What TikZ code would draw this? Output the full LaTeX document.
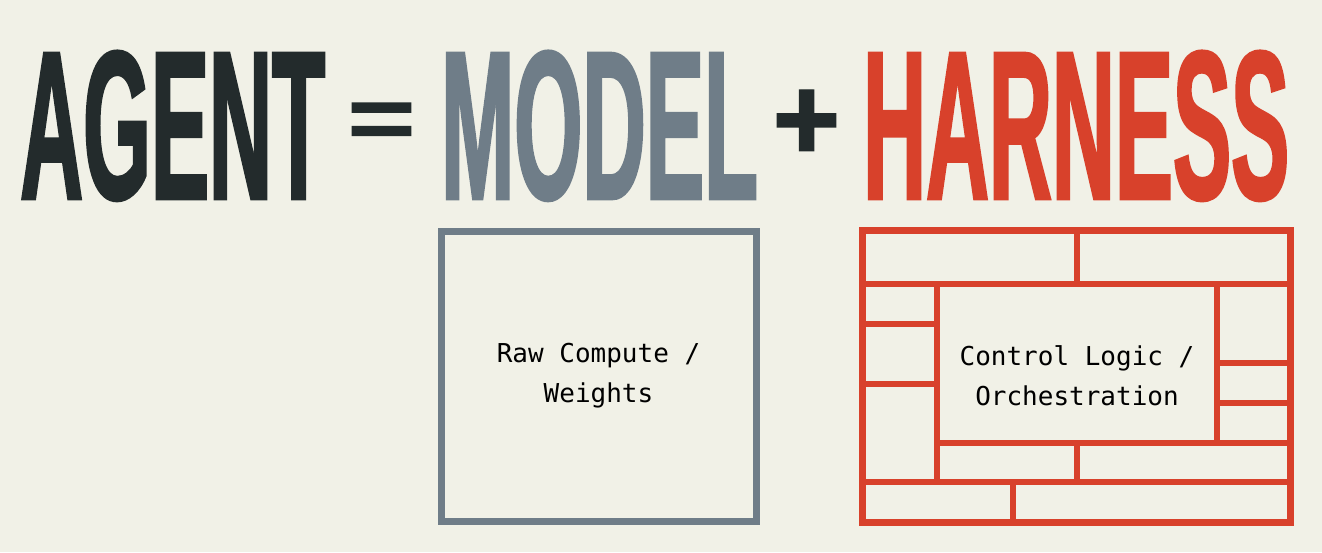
\documentclass[tikz,border=0pt]{standalone}
\usepackage{fontspec}
\usepackage{graphicx}
\setmonofont{DejaVu Sans Mono}
\newfontfamily\headfont[FakeStretch=0.45, FakeBold=1.2]{Liberation Sans Bold}
\usetikzlibrary{calc}
\usetikzlibrary{positioning}

\definecolor{paper}{HTML}{F1F1E7}
\definecolor{ink}{HTML}{232B2C}
\definecolor{slate}{HTML}{6F7D88}
\definecolor{brick}{HTML}{D8412B}

\begin{document}
\begin{tikzpicture}[x=1pt, y=-1pt,                                                    % pixel-like units, y downwards
        word/.style = {inner sep=0pt, anchor=base west},                             % headline words
        sign/.style = {inner sep=0pt, text=ink},                                     % = and +
        frame/.style = {draw, line width=7pt, inner sep=0pt, outer sep=0pt},         % outer boxes
        wall/.style = {draw=brick, line width=6.5pt},                                % harness partitions
        boxtext/.style = {font=\ttfamily\fontsize{26}{40}\selectfont, align=center}] % mono captions
    \fill[paper] (0,0) rectangle (1322,552);
    \useasboundingbox (0,0) rectangle (1322,552);
    % headline
    \node[word, text=ink] (agent) at (20,199) {\resizebox{305pt}{148pt}{\headfont AGENT}};
    \node[sign] (equals) at (381.5,125.5) {\resizebox{66pt}{45pt}{\headfont =}};
    \node[word, text=slate] (model) at (441,199) {\resizebox{316pt}{148pt}{\headfont MODEL}};
    \node[sign] (plus) at (806.5,125) {\resizebox{66pt}{70pt}{\headfont +}};
    \node[word, text=brick] (harness) at (863,199) {\resizebox{426pt}{148pt}{\headfont HARNESS}};
    % model box
    \node[frame, draw=slate, minimum width=315pt, minimum height=290pt, boxtext] (weights) at (598.5,376) {Raw Compute /\\Weights};
    % harness box
    \node[frame, draw=brick, minimum width=428pt, minimum height=292pt] (shell) at (1076,376) {};
    \node[frame, draw=brick, line width=6.5pt, minimum width=280pt, minimum height=159pt] (logic) at (1077,363.5) {};
    \node[boxtext] (logictext) at (1077,376) {Control Logic /\\Orchestration};
    \coordinate (split) at (1013,482);
    %walls:rows
    \path[wall]
        (shell.west |- logic.north) edge (shell.east |- logic.north)
        (logic.north |- shell.north) edge (logic.north)
        (logic.south east) edge (shell.east |- logic.south)
        (shell.west |- split) edge (shell.east |- split);
    %walls:columns
    \path[wall]
        (logic.south west) edge (logic.south west |- split)
        (logic.south) edge (logic.south |- split)
        (split) edge (split |- shell.south)
        (shell.west |- 0,324) edge (logic.west |- 0,324)
        (shell.west |- 0,384) edge (logic.west |- 0,384)
        (logic.east |- 0,363) edge (shell.east |- 0,363)
        (logic.east |- 0,403) edge (shell.east |- 0,403);
\end{tikzpicture}
\end{document}
